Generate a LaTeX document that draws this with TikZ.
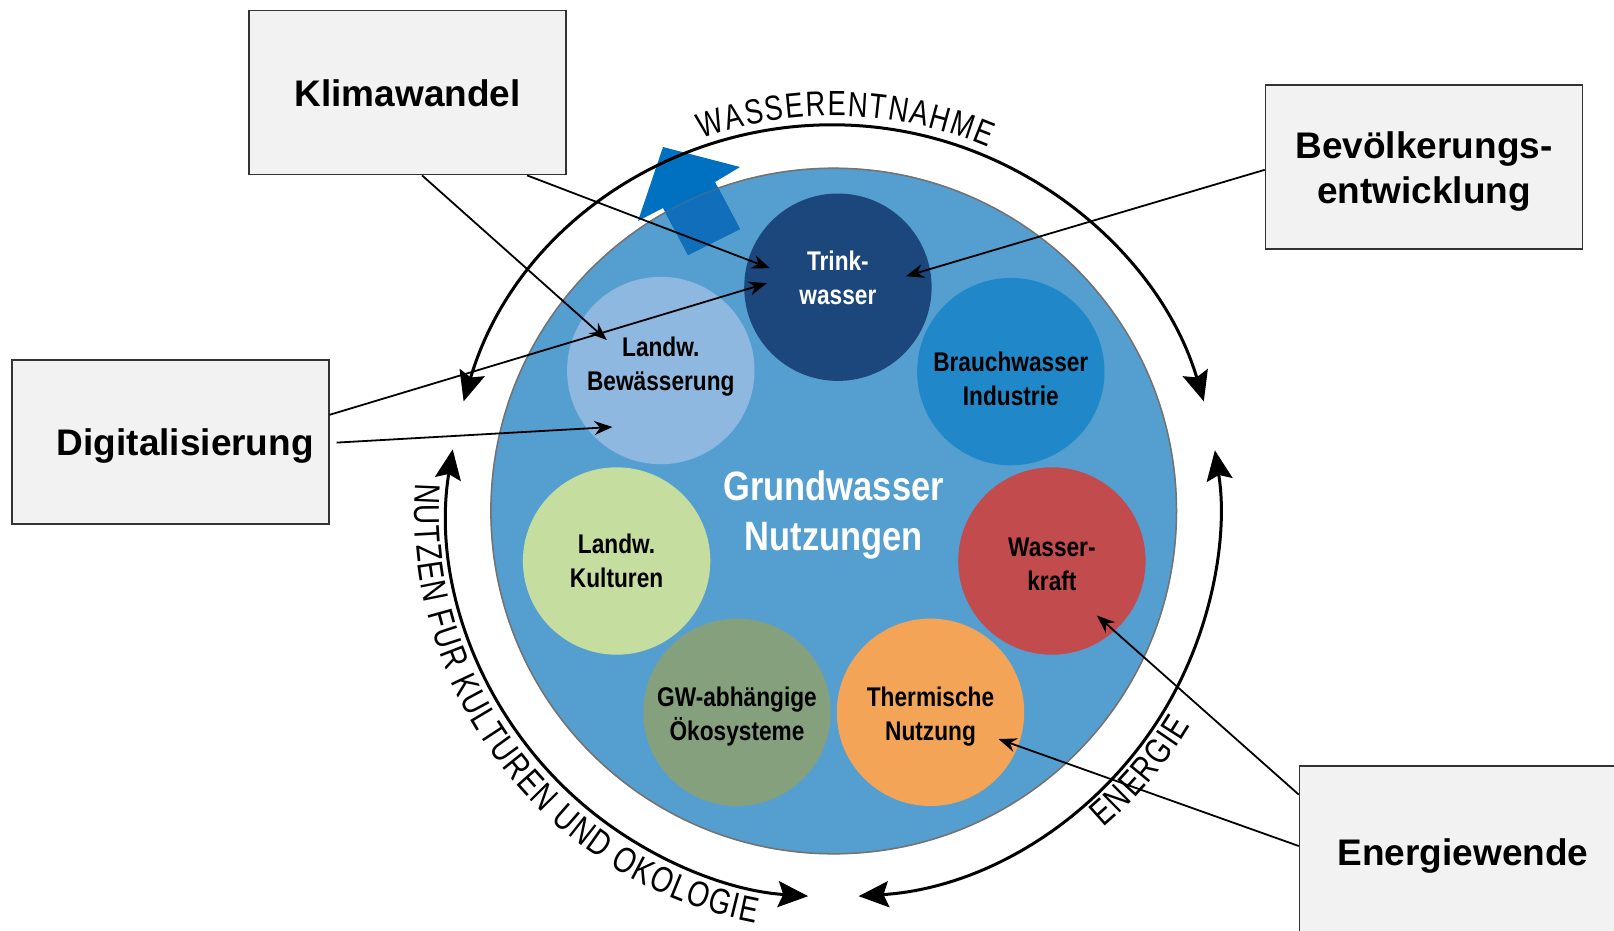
\documentclass[tikz,border=0pt]{standalone}
\usepackage{fontspec}
\usetikzlibrary{arrows.meta,calc,decorations.text}

\newfontfamily\boxfont{Liberation Sans}
\newfontfamily\condfont{Liberation Sans}[FakeStretch=0.84]
\newfontfamily\arcfont{Liberation Sans}[FakeStretch=0.78]

\definecolor{gwblue}{RGB}{85,159,208}
\definecolor{trinkblue}{RGB}{28,71,124}
\definecolor{bewblue}{RGB}{143,184,224}
\definecolor{brauchblue}{RGB}{32,136,200}
\definecolor{kraftred}{RGB}{194,75,77}
\definecolor{thermorange}{RGB}{244,164,87}
\definecolor{gwgreen}{RGB}{132,160,124}
\definecolor{kultgreen}{RGB}{198,221,160}
\definecolor{pfeilblue}{RGB}{0,112,192}
\definecolor{pfeilinner}{RGB}{16,110,186}
\definecolor{boxfill}{RGB}{242,242,242}

\newcommand\pfeilpath{(663,-147) -- (740,-167) -- (715,-182) -- (740,-229) -- (688,-255) -- (663,-208) -- (638,-221) -- cycle}

\tikzset{
  usebubble/.style={circle, minimum size=187.4pt, inner sep=0pt},
  bubbletext/.style={inner sep=0pt, align=center,
    font=\condfont\bfseries\fontsize{27}{34}\selectfont},
  factorbox/.style={draw=black!80, line width=1.5pt, fill=boxfill,
    minimum width=317pt, minimum height=164pt, inner sep=0pt, align=center,
    text depth=0pt, font=\boxfont\bfseries\fontsize{37}{45}\selectfont},
  influence/.style={line width=1.8pt, -{Stealth[length=18pt,width=14pt]}},
  cyclearrow/.style={line width=3pt,
    {Stealth[length=30pt,width=26pt,inset=5pt]}-{Stealth[length=30pt,width=26pt,inset=5pt]}},
}

\begin{document}
\begin{tikzpicture}[x=1pt,y=1pt]
\useasboundingbox (0,0) rectangle (1614,-930);
\clip (0,0) rectangle (1614,-930);

% central groundwater disc
\node[circle, minimum size=685.6pt, inner sep=0pt, fill=gwblue, draw=black!55,
      line width=1.5pt] (gw) at (833.7,-511) {};
\coordinate (c) at (gw.center);
\node[inner sep=0pt, text=white, align=center,
      font=\condfont\bfseries\fontsize{41}{50}\selectfont]
      (gwT) at ([yshift=-4pt]gw.center) {Grundwasser\\Nutzungen};

% the seven uses
\node[usebubble, fill=trinkblue]   (trink)  at (837.9,-287.2) {};
\node[usebubble, fill=bewblue]     (bew)    at (660.8,-370.5) {};
\node[usebubble, fill=brauchblue]  (brauch) at (1010.8,-371.6) {};
\node[usebubble, fill=kultgreen]   (kult)   at (616.6,-561) {};
\node[usebubble, fill=kraftred]    (kraft)  at (1051.9,-561) {};
\node[usebubble, fill=gwgreen]     (oeko)   at (737,-712.3) {};
\node[usebubble, fill=thermorange] (therm)  at (930.5,-712.3) {};

\node[bubbletext, text=white] (trinkT)  at ([yshift=9pt]trink)    {Trink-\\wasser};
\node[bubbletext]             (bewT)    at ([yshift=4pt]bew)      {Landw.\\Bewässerung};
\node[bubbletext]             (brauchT) at ([yshift=-7.5pt]brauch) {Brauchwasser\\Industrie};
\node[bubbletext]             (kultT)   at (kult)                 {Landw.\\Kulturen};
\node[bubbletext]             (kraftT)  at ([yshift=-3pt]kraft)   {Wasser-\\kraft};
\node[bubbletext]             (oekoT)   at ([yshift=-4pt]oeko)    {GW-abhängige\\Ökosysteme};
\node[bubbletext]             (thermT)  at ([yshift=-4pt]therm)   {Thermische\\Nutzung};

% blue withdrawal arrow
\fill[pfeilblue] \pfeilpath;
\begin{scope}
  \clip (c) circle (342.8);
  \fill[pfeilinner] \pfeilpath;
\end{scope}
\draw[black!55, line width=1.2pt, opacity=0.45] (c) circle (342.8);

% cycle arcs
\draw[cyclearrow] ($(c)+(163.5:386)$) arc[start angle=163.5, end angle=16.5, radius=386];
\draw[cyclearrow] ($(c)+(170.8:386)$) arc[start angle=170.8, end angle=266.2, radius=386];
\draw[cyclearrow] ($(c)+(-86.3:386)$) arc[start angle=-86.3, end angle=9.05, radius=386];

% arc captions
\path[decorate, decoration={text along path, text align=fit to path,
      text={|\arcfont\fontsize{35}{38}\selectfont|WASSERENTNAHME}}]
  ($(c)+(109.5:395)$) arc[start angle=109.5, end angle=67, radius=395];
\path[decorate, decoration={text along path, text align=fit to path,
      text={|\arcfont\fontsize{36}{40}\selectfont|NUTZEN FUR KULTUREN UND OKOLOGIE}}]
  ($(c)+(176.2:419)$) arc[start angle=176.2, end angle=259.3, radius=419];
\path[decorate, decoration={text along path, text align=fit to path,
      text={|\arcfont\fontsize{36}{40}\selectfont|ENERGIE}}]
  ($(c)+(-49.5:416)$) arc[start angle=-49.5, end angle=-31, radius=416];

% driving factors
\node[factorbox] (klima) at (407.6,-92.6) {Klimawandel};
\node[factorbox] (bev)   at (1424,-167.2) {Bevölkerungs-\\entwicklung};
\node[factorbox] (dig)   at (170.3,-442.1) {\hspace*{30pt}Digitalisierung};
\node[factorbox, minimum height=172pt] (ener) at (1458,-852) {\hspace*{10pt}Energiewende};

% influences
\draw[influence] ([xshift=119.4pt]klima.south) -- ($(trink)+(-68,19)$);
\draw[influence] ([xshift=14.4pt]klima.south) -- ($(bew)+(-54,30.5)$);
\draw[influence] ([yshift=-2.6pt]bev.west) -- ($(trink)+(68,11)$);
\draw[influence] ([yshift=27.3pt]dig.east) -- ($(trink)+(-71,4)$);
\draw[influence] ([xshift=7pt,yshift=-0.5pt]dig.east) -- ($(bew)+(-48.4,-56.5)$);
\draw[influence] ([yshift=57.4pt]ener.west) -- ($(kraft)+(45,-54.5)$);
\draw[influence] ([yshift=6pt]ener.west) -- ($(therm)+(68,-26.7)$);
\end{tikzpicture}
\end{document}
